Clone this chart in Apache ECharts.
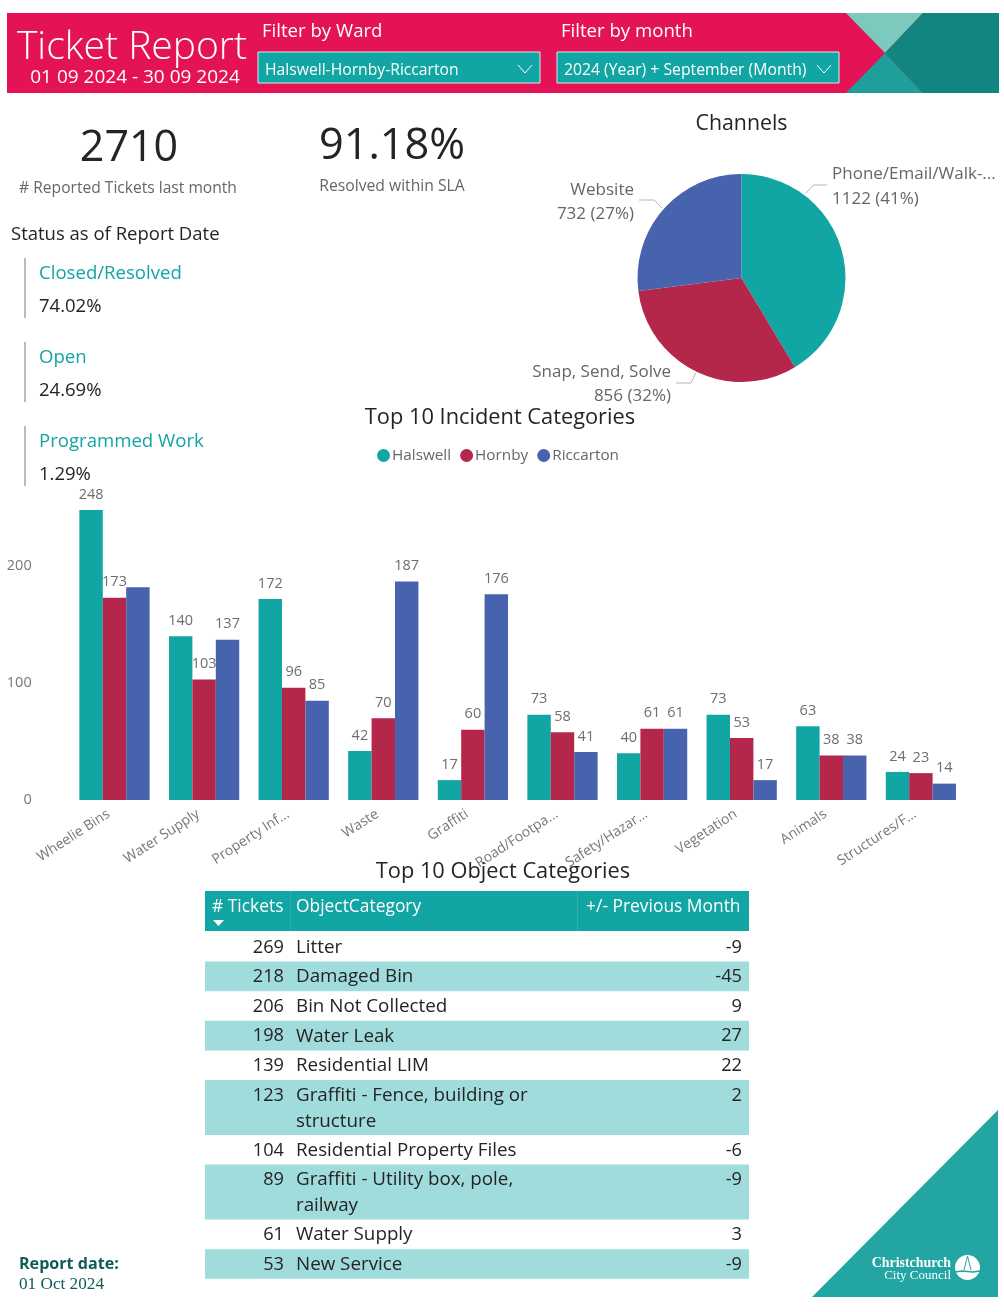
<!DOCTYPE html>
<html>
<head>
<meta charset="utf-8">
<style>
html,body{margin:0;padding:0;background:#fff}
#main{width:1004px;height:1312px}
</style>
<script src="https://cdn.jsdelivr.net/npm/echarts@6/dist/echarts.min.js"></script>
</head>
<body>
<div id="main"></div>
<script>
// chart data
var categories = ['Wheelie Bins','Water Supply','Property Inf...','Waste','Graffiti','Road/Footpa...','Safety/Hazar...','Vegetation','Animals','Structures/F...'];
var halswell = [248,140,172,42,17,73,40,73,63,24];
var hornby = [173,103,96,70,60,58,61,53,38,23];
var riccarton = [182,137,85,187,176,41,61,17,38,14];
var yTicks = [0,100,200];
var channelNames = ['Phone/Email/Walk-...','Snap, Send, Solve','Website'];
var channelValues = [1122,856,732];
var statusNames = ['Closed/Resolved','Open','Programmed Work'];
var statusValues = ['74.02%','24.69%','1.29%'];
var tableTickets = [269,218,206,198,139,123,104,89,61,53];
var tableObjects = [['Litter'],['Damaged Bin'],['Bin Not Collected'],['Water Leak'],['Residential LIM'],['Graffiti - Fence, building or','structure'],['Residential Property Files'],['Graffiti - Utility box, pole,','railway'],['Water Supply'],['New Service']];
var tableChange = [-9,-45,9,27,22,2,-6,-9,3,-9];

var FONT = '"Open Sans"';
var TEAL = '#11a5a3', RED = '#b5264b', BLUE = '#4763ad', PINK = '#e31356';
var DARK = '#252423', GREY = '#666666';

function txt(x,y,s,size,color,align,extra){
  var style = {x:x,y:y+1.5,text:s,fontFamily:FONT,fontSize:size,fill:color,align:align||'left',verticalAlign:'middle'};
  for(var k in extra) style[k]=extra[k];
  return {type:'text',z:50,style:style};
}
function rect(x,y,w,h,fill,stroke){
  return {type:'rect',z:5,shape:{x:x,y:y,width:w,height:h},style:{fill:fill,stroke:stroke||null,lineWidth:stroke?1:0}};
}
function poly(points,fill){
  return {type:'polygon',z:6,shape:{points:points},style:{fill:fill}};
}
function chevron(x,y){
  return {type:'polyline',z:50,shape:{points:[[x,y],[x+7,y+8],[x+14,y]]},style:{stroke:'#fff',lineWidth:1,fill:null}};
}

var g = [];
// header band
g.push(rect(7,13,992,80,PINK));
g.push(poly([[846,13],[923,13],[885,53]],'#7ccabd'));
g.push(poly([[846,93],[923,93],[885,53]],'#1f9e9c'));
g.push(poly([[923,13],[999,13],[999,93],[923,93],[885,53]],'#128580'));
g.push(txt(132,46.5,'Ticket Report',39,'#fff','center',{fontWeight:300}));
g.push(txt(135,76.5,'01 09 2024 - 30 09 2024',19,'#fff','center'));
g.push(txt(262,30,'Filter by Ward',18.6,'#fff'));
g.push(txt(561,30,'Filter by month',18.6,'#fff'));
g.push(rect(258,52,282,31,TEAL,'#d5ecec'));
g.push(rect(557,52,282,31,TEAL,'#d5ecec'));
g.push(txt(265,69,'Halswell-Hornby-Riccarton',15.7,'#fff'));
g.push(txt(564,69,'2024 (Year) + September (Month)',15.75,'#fff'));
g.push(chevron(518,65));
g.push(chevron(817,65));

// KPI cards
g.push(txt(129,147,'2710',43,DARK,'center'));
g.push(txt(128,187,'# Reported Tickets last month',15.6,GREY,'center'));
g.push(txt(392,145.5,'91.18%',43.3,DARK,'center'));
g.push(txt(392,185,'Resolved within SLA',15.7,GREY,'center'));
g.push(txt(11,233,'Status as of Report Date',18.5,DARK));
for(var i=0;i<statusNames.length;i++){
  var blockY = 258+84*i;
  g.push(rect(24,blockY,2,60,'#bdbdbd'));
  g.push(txt(39,blockY+14.5,statusNames[i],18.6,TEAL));
  g.push(txt(39,blockY+47.5,statusValues[i],18.5,DARK));
}

// section titles
g.push(txt(741.5,122,'Channels',21.3,DARK,'center'));
g.push(txt(500,416,'Top 10 Incident Categories',21.8,DARK,'center'));
g.push(txt(503,870,'Top 10 Object Categories',21.8,DARK,'center'));

// object table, rows stacked from the line counts
var tableX = 205, tableW = 544, colA = 290, colB = 577;
g.push(rect(tableX,891,tableW,40,TEAL));
g.push(txt(212,906,'# Tickets',17.4,'#fff'));
g.push(txt(296,906,'ObjectCategory',17.4,'#fff'));
g.push(txt(740.5,906,'+/- Previous Month',17.4,'#fff','right'));
g.push(poly([[213,920],[224,920],[218.5,926]],'#fff'));
var rowY = 932;
for(var r=0;r<tableTickets.length;r++){
  var rowLines = tableObjects[r];
  var rowH = rowLines.length==2?55:29.6;
  if(r%2==1) g.push(rect(tableX,rowY,tableW,rowH,'#9fdcdb'));
  g.push(txt(284,rowY+14,String(tableTickets[r]),18.2,DARK,'right'));
  for(var l=0;l<rowLines.length;l++){
    g.push(txt(296,rowY+14+26*l,rowLines[l],18.8,DARK));
  }
  g.push(txt(742,rowY+14,String(tableChange[r]),18.2,DARK,'right'));
  rowY += rowH;
}
g.push(rect(colA,891,1,40,'rgba(255,255,255,0.12)'));
g.push(rect(colB,891,1,40,'rgba(255,255,255,0.12)'));

// report date + logo corner
g.push(txt(19,1262.5,'Report date:',16.1,'#0f5c57','left',{fontWeight:'bold'}));
g.push(txt(19,1283,'01 Oct 2024',17.2,'#0f5c57','left',{fontFamily:'"Liberation Serif"'}));
g.push(poly([[812,1297],[998,1297],[998,1110]],'#22a5a3'));
g.push(txt(951,1261.5,'Christchurch',13.9,'#fff','right',{fontFamily:'"Liberation Serif"',fontWeight:'bold'}));
g.push(txt(951,1274,'City Council',13,'#fff','right',{fontFamily:'"Liberation Serif"'}));
g.push({type:'circle',z:50,shape:{cx:967.5,cy:1267.5,r:12.5},style:{fill:'#fff'}});
g.push({type:'polyline',z:51,shape:{points:[[955,1272],[962,1271],[973,1272],[980,1271]]},style:{stroke:'#22a5a3',lineWidth:1.5,fill:null}});
g.push({type:'polyline',z:51,shape:{points:[[964,1270],[967.5,1256],[971,1270]]},style:{stroke:'#22a5a3',lineWidth:1,fill:null}});

function barSeries(seriesName,values,color,hidden){
  return {
    name:seriesName,type:'bar',barGap:0,barCategoryGap:'21.6%',
    itemStyle:{color:color},
    label:{show:true,position:'top',distance:8,fontFamily:FONT,fontSize:14.5,color:'#6e6e6e'},
    data:values.map(function(v,i){
      return hidden.indexOf(i)>=0 ? {value:v,label:{show:false}} : v;
    })
  };
}

// pie label placement as in the report
var pieLabelPos = [
  {x:832,y:186.5,align:'left',line:[[805.7,193.3],[813.3,185],[827.3,185]]},
  {x:671,y:384,align:'right',line:[[695.7,373],[691,383],[676,383]]},
  {x:634,y:202,align:'right',line:[[662,208],[654,200],[639,200]]}
];

var chart = echarts.init(document.getElementById('main'));
chart.setOption({
  animation:false,
  backgroundColor:'#fff',
  textStyle:{fontFamily:FONT},
  legend:{
    data:['Halswell','Hornby','Riccarton'],
    left:372,top:443,icon:'circle',itemWidth:13,itemHeight:13,itemGap:9,
    textStyle:{fontFamily:FONT,fontSize:15.3,color:GREY,padding:[0,0,0,-3]}
  },
  grid:{left:69.7,top:449.3,width:896,height:350.7},
  xAxis:{
    type:'category',data:categories,
    axisLine:{show:false},axisTick:{show:false},
    axisLabel:{interval:0,rotate:33,fontFamily:FONT,fontSize:14,color:'#777',margin:9,padding:[0,7,0,0]}
  },
  yAxis:{
    type:'value',min:0,max:300,interval:100,
    splitLine:{show:false},axisLine:{show:false},axisTick:{show:false},
    axisLabel:{margin:38,fontFamily:FONT,fontSize:14.5,color:'#777',padding:[3,0,0,0],
      formatter:function(v){return yTicks.indexOf(v)>=0?String(v):'';}}
  },
  series:[
    barSeries('Halswell',halswell,TEAL,[]),
    barSeries('Hornby',hornby,RED,[]),
    barSeries('Riccarton',riccarton,BLUE,[0]),
    {
      type:'pie',center:[741.5,278],radius:[0,104],startAngle:90,clockwise:true,
      percentPrecision:0,
      data:channelNames.map(function(n,i){
        return {name:n,value:channelValues[i],itemStyle:{color:[TEAL,RED,BLUE][i]}};
      }),
      label:{formatter:'{b}\n{c} ({d}%)',fontFamily:FONT,fontSize:17,lineHeight:24.5,color:GREY,overflow:'none'},
      labelLine:{length:10,length2:18,lineStyle:{color:'#b5b5b5',width:1}},
      labelLayout:function(params){
        var p = pieLabelPos[params.dataIndex];
        return {x:p.x,y:p.y,align:p.align,verticalAlign:'middle',labelLinePoints:p.line};
      }
    }
  ],
  graphic:{elements:g}
});
</script>
</body>
</html>
